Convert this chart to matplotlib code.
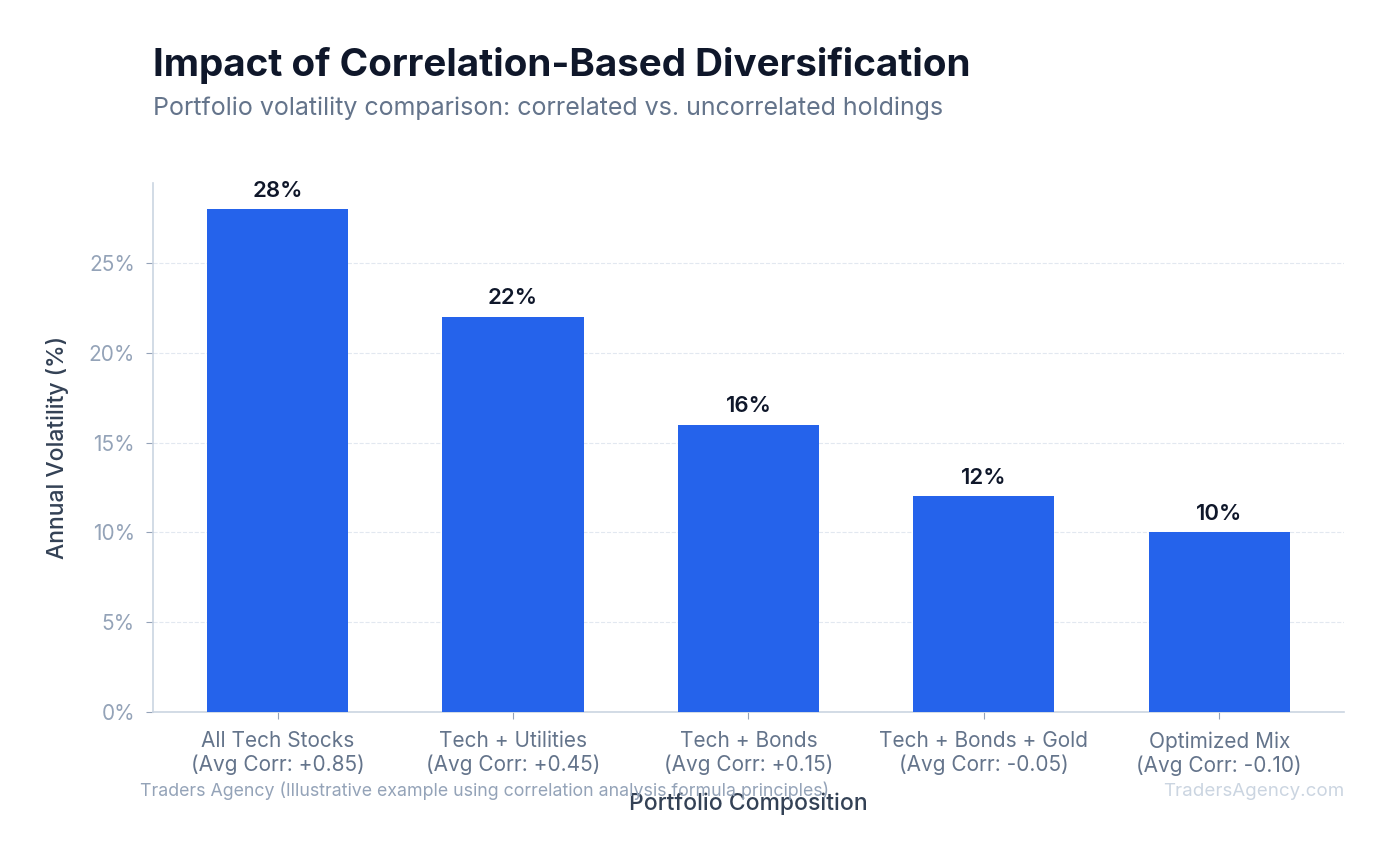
import matplotlib
matplotlib.use('Agg')
import matplotlib.pyplot as plt
from matplotlib.ticker import FuncFormatter

#Dados do grafico
portfolios = ['All Tech Stocks', 'Tech + Utilities', 'Tech + Bonds', 'Tech + Bonds + Gold', 'Optimized Mix']
correlacoes = ['+0.85', '+0.45', '+0.15', '-0.05', '-0.10']
volatilidade = [28, 22, 16, 12, 10]

plt.rcParams['font.family'] = ['Inter', 'DejaVu Sans']

fig = plt.figure(figsize=(13.88, 8.59), dpi=100)
ax = fig.add_axes([0.1102, 0.1711, 0.8581, 0.6159])

rotulos = [p + '\n(Avg Corr: ' + c + ')' for p, c in zip(portfolios, correlacoes)]
x = list(range(len(portfolios)))
barras = ax.bar(x, volatilidade, width=0.6, color='#2563eb', zorder=3)

#Rotulos de valor em cima das barras
for xi, v in zip(x, volatilidade):
    ax.annotate(f'{v}%', (xi, v), xytext=(0, 6), textcoords='offset points',
                ha='center', va='bottom', fontsize=16, fontweight='semibold', color='#0f172a')

ax.set_ylim(0, 29.45)
ax.set_xticks(x)
ax.set_xticklabels(rotulos, fontsize=15, color='#64748b')
ax.yaxis.set_major_formatter(FuncFormatter(lambda v, p: f'{v:.0f}%'))
ax.tick_params(axis='y', labelsize=15, labelcolor='#94a3b8', color='#94a3b8', length=5, pad=8)
ax.tick_params(axis='x', color='#94a3b8', length=5, pad=9)
ax.grid(axis='y', linestyle='--', color='#e2e8f0', linewidth=0.8, zorder=0)
for s in ['top', 'right']:
    ax.spines[s].set_visible(False)
for s in ['left', 'bottom']:
    ax.spines[s].set_color('#cbd5e1')
    ax.spines[s].set_linewidth(1.2)

ax.set_ylabel('Annual Volatility (%)', fontsize=16.5, fontweight='medium', color='#334155', labelpad=14)
ax.set_xlabel('Portfolio Composition', fontsize=16.5, fontweight='medium', color='#334155', labelpad=12)

#Titulo e subtitulo
fig.text(153/1388, 1 - 65/859, 'Impact of Correlation-Based Diversification', fontsize=27.8,
         fontweight='bold', color='#0f172a', ha='left', va='center')
fig.text(153/1388, 1 - 108/859, 'Portfolio volatility comparison: correlated vs. uncorrelated holdings',
         fontsize=18, color='#64748b', ha='left', va='center')

#Rodape
fig.text(140/1388, 1 - 791/859, 'Traders Agency (Illustrative example using correlation analysis formula principles)',
         fontsize=12.8, color='#94a3b8', ha='left', va='center')
fig.text(1344/1388, 1 - 791/859, 'TradersAgency.com', fontsize=13.5, color='#cbd5e1', ha='right', va='center')

fig.savefig('out.png', dpi=100, facecolor='white')
